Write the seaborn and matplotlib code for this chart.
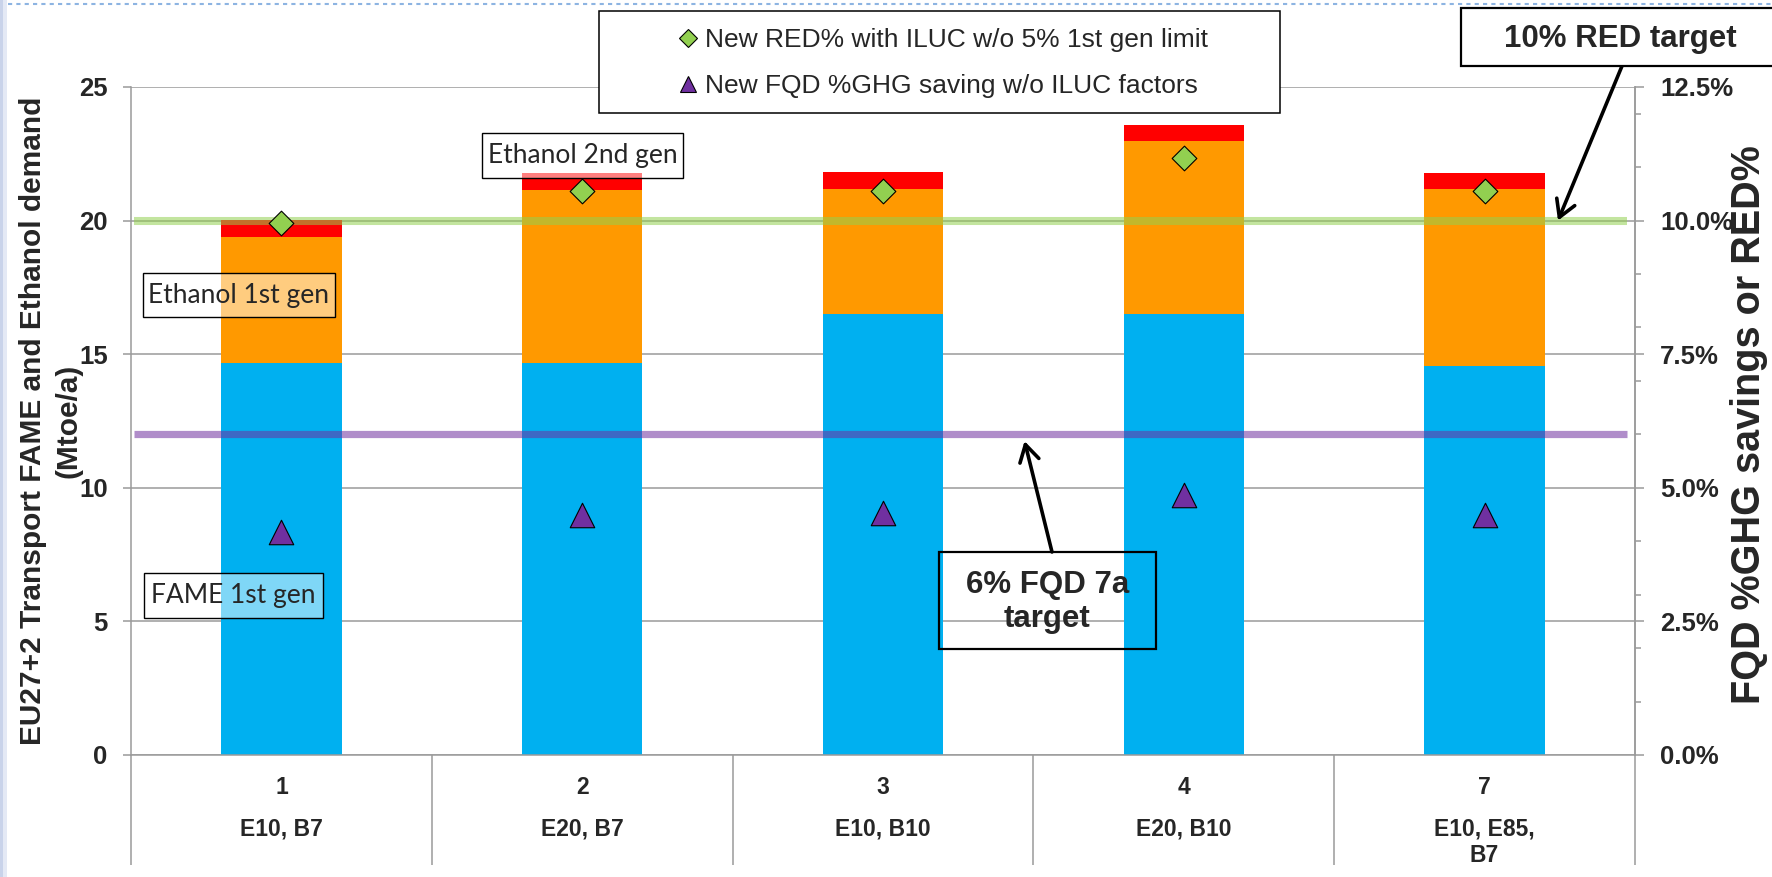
import numpy as np
import pandas as pd
import matplotlib
matplotlib.use("Agg")
import matplotlib.pyplot as plt
import matplotlib.transforms as mtransforms
import seaborn as sns
from matplotlib.patches import Rectangle
from matplotlib.lines import Line2D
from matplotlib.ticker import MultipleLocator, FuncFormatter

# ---- data -------------------------------------------------------------
scenarios = ["1", "2", "3", "4", "7"]
blends = ["E10, B7", "E20, B7", "E10, B10", "E20, B10", "E10, E85,\nB7"]
fame_1st = [14.68, 14.68, 16.52, 16.52, 14.57]       # Mtoe/a
ethanol_1st = [4.72, 6.47, 4.66, 6.45, 6.61]         # Mtoe/a
ethanol_2nd = [0.62, 0.65, 0.65, 0.62, 0.62]         # Mtoe/a
red_pct = [9.95, 10.56, 10.56, 11.17, 10.56]         # % (right axis)
fqd_pct = [4.17, 4.50, 4.52, 4.86, 4.49]             # % (right axis)
red_target = 10.0
fqd_target = 6.0

C_FAME = "#00B0F0"
C_ETH1 = "#FF9900"
C_ETH2 = "#FF0000"
C_RED = "#92D050"
C_FQD = "#7030A0"
GRID = "#9A9A9A"

W, H, DPI = 1772, 877, 100
sns.set_theme(style="white")
plt.rcParams["font.family"] = ["Liberation Sans", "DejaVu Sans"]


def fx(px):
    return px / W


def fy(py):
    return 1 - py / H


fig = plt.figure(figsize=(W / DPI, H / DPI), dpi=DPI)
fig.patch.set_facecolor("white")
ax = fig.add_axes([fx(131), fy(755), (1635 - 131) / W, (755 - 87) / H])

df = pd.DataFrame({"scenario": scenarios, "fame": fame_1st,
                   "eth1": ethanol_1st, "eth2": ethanol_2nd})
df["fame_eth1"] = df["fame"] + df["eth1"]
df["total"] = df["fame_eth1"] + df["eth2"]

# stacked bars: draw cumulative totals from the top layer down
for col, color in [("total", C_ETH2), ("fame_eth1", C_ETH1), ("fame", C_FAME)]:
    sns.barplot(data=df, x="scenario", y=col, color=color, saturation=1,
                width=0.4, errorbar=None, linewidth=0, ax=ax, zorder=2)

ax.set_axisbelow(True)
ax.set_ylim(0, 25)
ax.yaxis.set_major_locator(MultipleLocator(5))
ax.yaxis.grid(True, color=GRID, lw=1.1)
ax.xaxis.grid(False)
ax.set_xlabel("")
ax.set_ylabel("EU27+2 Transport FAME and Ethanol demand\n(Mtoe/a)",
              fontsize=21.5, fontweight="bold", linespacing=1.32)
ax.yaxis.set_label_coords(-0.0325, 0.5)
ax.tick_params(axis="y", which="major", length=6, width=1.1, color=GRID,
               pad=10.8, labelsize=18.5, left=True)
for t in ax.get_yticklabels():
    t.set_fontweight("bold")

# category dividers hang below the axis
ax.set_xticks(np.arange(-0.5, len(scenarios), 1), minor=True)
ax.tick_params(axis="x", which="minor", length=79, width=1.1, color=GRID,
               direction="out", bottom=True)
ax.tick_params(axis="x", which="major", length=0, pad=14.8, labelsize=16.5)
for t in ax.get_xticklabels():
    t.set_fontweight("bold")
for side in ["left", "bottom", "right"]:
    ax.spines[side].set_color(GRID)
    ax.spines[side].set_linewidth(1.1)
ax.spines["top"].set_visible(False)

trans = mtransforms.blended_transform_factory(ax.transData, ax.transAxes)
for i, name in enumerate(blends):
    ax.text(i, -0.0936, name, transform=trans, ha="center", va="top",
            fontsize=16.5, fontweight="bold", linespacing=1.2)

# secondary axis for percentages
ax2 = ax.twinx()
ax2.set_ylim(0, 12.5)
ax2.yaxis.set_major_locator(MultipleLocator(2.5))
ax2.yaxis.set_minor_locator(MultipleLocator(1))
ax2.yaxis.set_major_formatter(FuncFormatter(lambda v, p: f"{v:.1f}%"))
ax2.tick_params(axis="y", which="major", length=6.5, width=1.1, color=GRID,
                pad=11.5, labelsize=18.5, right=True)
ax2.tick_params(axis="y", which="minor", length=4, width=1.1, color=GRID,
                right=True)
for t in ax2.get_yticklabels():
    t.set_fontweight("bold")
for side in ["left", "top", "bottom"]:
    ax2.spines[side].set_visible(False)
ax2.spines["right"].set_color(GRID)
ax2.spines["right"].set_linewidth(1.1)
ax2.grid(False)

ax2.axhline(red_target, xmin=0.002, xmax=0.9947, color=C_RED, alpha=0.55,
            lw=5.8, solid_capstyle="butt", zorder=1)
ax2.axhline(fqd_target, xmin=0.002, xmax=0.9947, color=C_FQD, alpha=0.55,
            lw=5.2, solid_capstyle="butt", zorder=1)

xpos = np.arange(len(scenarios))
sns.scatterplot(x=xpos, y=red_pct, marker="D", s=158, color=C_RED,
                edgecolor="black", linewidth=0.8, ax=ax2, zorder=4, legend=False)
sns.scatterplot(x=xpos, y=fqd_pct, marker="^", s=311, color=C_FQD,
                edgecolor="black", linewidth=0.8, ax=ax2, zorder=4, legend=False)
ax2.set_ylabel("")
ax.set_xlim(-0.5, len(scenarios) - 0.5)
ax2.set_xlim(-0.5, len(scenarios) - 0.5)

# target call-outs
arrow = dict(arrowstyle="->,head_length=0.6,head_width=0.35", lw=2.6,
             color="black", mutation_scale=20, shrinkA=0)
ax2.annotate("", xy=(4.244, red_target), xycoords="data",
             xytext=(fx(1622), fy(66)), textcoords="figure fraction",
             arrowprops={**arrow, "shrinkB": 0}, annotation_clip=False)
ax2.annotate("", xy=(2.465, fqd_target), xycoords="data",
             xytext=(fx(1052), fy(552)), textcoords="figure fraction",
             arrowprops={**arrow, "shrinkB": 5}, annotation_clip=False)


def box(x0, y0, x1, y1, face, lw):
    fig.add_artist(Rectangle((fx(x0), fy(y1)), (x1 - x0) / W, (y1 - y0) / H,
                             transform=fig.transFigure, facecolor=face,
                             edgecolor="black", lw=lw))


box(1461, 8, 1795, 66, "white", 1.6)
fig.text(fx(1620), fy(39), "10% RED target", ha="center", va="center",
         fontsize=22.5, fontweight="bold")
box(939, 552, 1156, 649, "none", 1.6)
fig.text(fx(1047.5), fy(602), "6% FQD 7a\ntarget", ha="center", va="center",
         fontsize=22.5, fontweight="bold", linespacing=1.16)

label_font = ["Lato", "DejaVu Sans"]
for (x0, y0, x1, y1), txt in [((142.5, 273, 335, 317), "Ethanol 1st gen"),
                              ((482, 133, 683, 178), "Ethanol 2nd gen"),
                              ((144, 573, 323, 618), "FAME 1st gen")]:
    box(x0, y0, x1, y1, (1, 1, 1, 0.5), 1.0)
    fig.text(fx((x0 + x1) / 2), fy((y0 + y1) / 2), txt, ha="center",
             va="center", fontsize=19, family=label_font)

# legend
box(599, 11, 1280, 113, "white", 1.1)
handles = [Line2D([], [], ls="none", marker="D", ms=8.7, mfc=C_RED,
                  mec="black", mew=0.8),
           Line2D([], [], ls="none", marker="^", ms=12, mfc=C_FQD,
                  mec="black", mew=0.8)]
fig.legend(handles, ["New RED% with ILUC w/o 5% 1st gen limit",
                     "New FQD %GHG saving w/o ILUC factors"],
           loc="center", bbox_to_anchor=(fx(941), fy(63)), frameon=False,
           fontsize=19, handlelength=1.0, handletextpad=0.15,
           labelspacing=0.85, borderaxespad=0, borderpad=0)

fig.text(fx(1760), fy(425), "FQD %GHG savings or RED%", rotation=90,
         rotation_mode="anchor", ha="center", va="baseline", fontsize=28.5,
         fontweight="bold")

# slide frame decoration
fig.add_artist(Rectangle((0, 0), fx(3), 1, transform=fig.transFigure,
                         facecolor="#C9D3EA", edgecolor="none"))
fig.add_artist(Rectangle((fx(3), 0), fx(4), 1, transform=fig.transFigure,
                         facecolor="#E4E9F5", edgecolor="none"))
fig.add_artist(Line2D([fx(8), 1], [fy(4), fy(4)], transform=fig.transFigure,
                      color="#8DB4E2", lw=1.5, ls=(0, (2, 2))))

fig.savefig("out.png", dpi=DPI)
